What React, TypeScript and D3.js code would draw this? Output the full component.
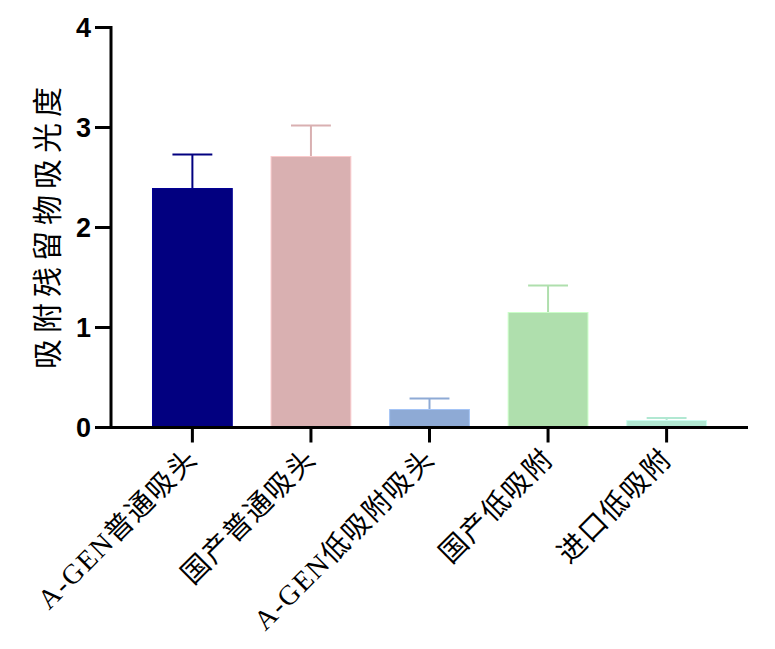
import React from "react";
import * as d3 from "d3";

const categories = ["A-GEN普通吸头", "国产普通吸头", "A-GEN低吸附吸头", "国产低吸附", "进口低吸附"];
const means = [2.39, 2.71, 0.18, 1.15, 0.07];
const errors = [0.34, 0.31, 0.11, 0.27, 0.025];
const colors = ["#020080", "#d9b0b1", "#8eaad5", "#afdfad", "#b1e8d2"];
const yTicks = [0, 1, 2, 3, 4];
const yTitle = "吸附残留物吸光度";

const W = 775, H = 649;
const left = 111, right = 748, top = 27.5, bottom = 427.5;

export default function App() {
  const x = d3.scaleBand<string>().domain(categories).range([left, right]).paddingInner(0.327).paddingOuter(0.35);
  const y = d3.scaleLinear().domain([0, 4]).range([bottom, top]);
  const bw = x.bandwidth();
  const latin = "'Liberation Serif', 'Noto Sans CJK SC', serif";
  return (
    <svg width={W} height={H} style={{ position: "absolute", left: 0, top: 0, background: "#fff" }}>
      {categories.map((c, i) => {
        const x0 = x(c)!;
        const cx = x0 + bw / 2;
        const col = colors[i];
        return (
          <g key={c}>
            <line x1={cx} x2={cx} y1={y(means[i])} y2={y(means[i] + errors[i])} stroke={col} strokeWidth={2} />
            <line x1={cx - bw / 4} x2={cx + bw / 4} y1={y(means[i] + errors[i])} y2={y(means[i] + errors[i])} stroke={col} strokeWidth={2} />
            <rect x={x0} y={y(means[i])} width={bw} height={y(0) - y(means[i])} fill={col} stroke={d3.color(col)!.brighter(0.4).toString()} strokeWidth={1} />
          </g>
        );
      })}
      {/* y axis */}
      <line x1={left} x2={left} y1={top - 1.5} y2={bottom + 1.5} stroke="#000" strokeWidth={3} />
      {yTicks.map((t) => (
        <g key={t}>
          <line x1={left - 16} x2={left} y1={y(t)} y2={y(t)} stroke="#000" strokeWidth={3} />
          <text x={left - 20} y={y(t)} dy="0.36em" textAnchor="end" fontFamily="'Liberation Sans', Arial, sans-serif" fontWeight="bold" fontSize={27} fill="#000">{t}</text>
        </g>
      ))}
      {/* x axis */}
      <line x1={left - 16} x2={right} y1={bottom} y2={bottom} stroke="#000" strokeWidth={3} />
      {categories.map((c) => {
        const cx = x(c)! + bw / 2;
        return (
          <g key={c}>
            <line x1={cx} x2={cx} y1={bottom} y2={bottom + 15} stroke="#000" strokeWidth={3} />
            <text transform={`translate(${cx + 7},${bottom + 33}) rotate(-45)`} textAnchor="end" fontFamily={latin} fontSize={28} letterSpacing={1.5} fill="#000">{c}</text>
          </g>
        );
      })}
      <text transform={`translate(58,${(78 + 372) / 2}) rotate(-90)`} textAnchor="middle" fontFamily="'Noto Sans CJK SC', sans-serif" fontSize={30} letterSpacing={6} fill="#000">{yTitle}</text>
    </svg>
  );
}
